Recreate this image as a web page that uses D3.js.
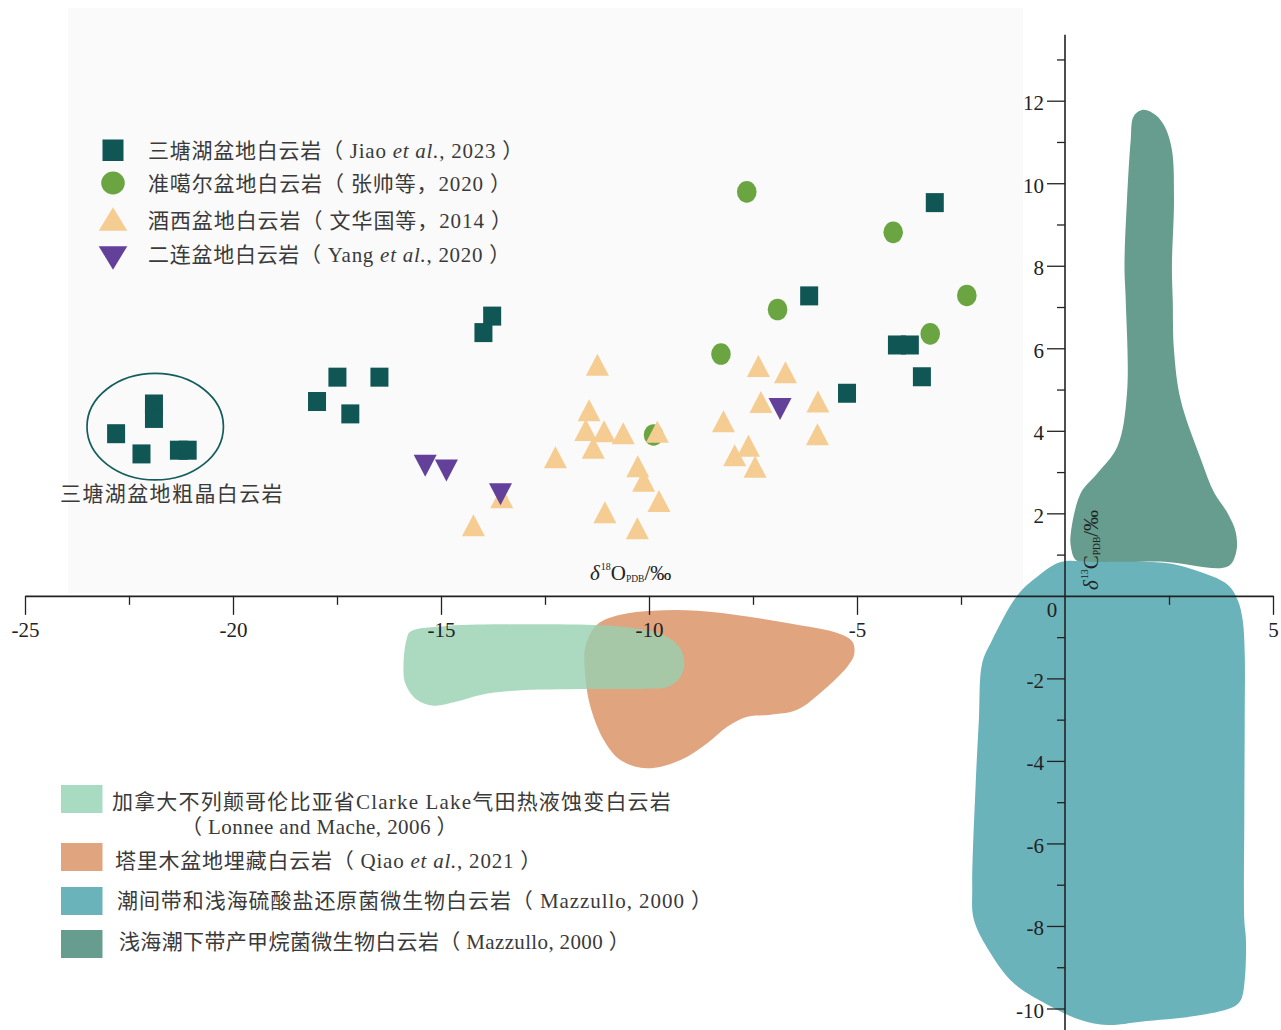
<!DOCTYPE html>
<html>
<head>
<meta charset="utf-8">
<script src="https://cdn.jsdelivr.net/npm/d3@7"></script>
<style>
  html, body { margin: 0; padding: 0; background: #fff; }
  svg { display: block; }
  text { font-family: "Liberation Serif", "Noto Sans CJK SC", serif; }
</style>
</head>
<body>
<svg id="chart" width="1281" height="1030"></svg>
<script>
// ---- δ18O / δ13C values (‰ PDB) ----
const santanghu = [
  [-22.81, 3.93], [-21.90, 4.65], [-21.90, 4.30], [-22.20, 3.44], [-21.30, 3.53], [-21.09, 3.53],
  [-17.49, 5.30], [-16.48, 5.30], [-17.98, 4.71], [-17.18, 4.41], [-13.77, 6.78], [-13.98, 6.38],
  [-6.15, 7.27], [-3.13, 9.53], [-4.04, 6.08], [-3.73, 6.08], [-3.44, 5.31], [-5.24, 4.91]
];
const junggar = [
  [-7.65, 9.79], [-4.13, 8.81], [-2.36, 7.28], [-3.24, 6.35], [-6.91, 6.94], [-8.27, 5.86], [-9.89, 3.90]
];
const jiuxi = [
  [-11.24, 5.51], [-11.44, 4.41], [-11.52, 3.93], [-11.08, 3.90], [-10.62, 3.85], [-9.80, 3.89],
  [-11.34, 3.50], [-12.25, 3.27], [-10.27, 3.05], [-10.13, 2.70], [-9.76, 2.21], [-11.06, 1.94],
  [-10.28, 1.55], [-14.22, 1.62], [-13.54, 2.30], [-7.37, 5.48], [-6.72, 5.33], [-7.31, 4.61],
  [-5.94, 4.62], [-8.21, 4.14], [-5.95, 3.83], [-7.61, 3.55], [-7.94, 3.32], [-7.45, 3.04]
];
const erlian = [
  [-15.38, 3.24], [-14.87, 3.13], [-13.57, 2.55], [-6.85, 4.62]
];

// ---- reference fields (outlines in ‰ PDB) ----
const clarkeZone = [
  [-15.74, -0.87], [-14.86, -0.73], [-13.25, -0.69], [-11.49, -0.70], [-10.37, -0.78], [-9.65, -0.95],
  [-9.28, -1.23], [-9.15, -1.59], [-9.24, -1.96], [-9.56, -2.21], [-10.05, -2.25], [-11.49, -2.26],
  [-13.25, -2.30], [-14.05, -2.40], [-14.62, -2.56], [-15.18, -2.66], [-15.58, -2.52], [-15.86, -2.12],
  [-15.90, -1.63], [-15.83, -1.07]
];
const tarimZone = [
  [-11.25, -0.70], [-10.69, -0.46], [-9.89, -0.36], [-8.84, -0.36], [-7.64, -0.50], [-6.44, -0.70],
  [-5.47, -0.90], [-5.11, -1.11], [-5.07, -1.43], [-5.23, -1.71], [-5.80, -2.28], [-6.44, -2.76],
  [-7.08, -2.88], [-7.64, -2.93], [-8.12, -3.17], [-8.60, -3.57], [-9.24, -3.98], [-10.05, -4.18],
  [-10.69, -3.98], [-11.09, -3.49], [-11.41, -2.68], [-11.53, -1.96], [-11.53, -1.23]
];
const sulfateZone = [
  [-1.75, -1.07], [-1.14, 0.02], [-0.66, 0.47], [-0.10, 0.82], [0.70, 0.82], [2.46, 0.79],
  [3.10, 0.63], [3.91, 0.27], [4.15, -0.10], [4.27, -0.58], [4.32, -1.39], [4.32, -3.00],
  [4.31, -5.43], [4.31, -7.85], [4.35, -8.34], [4.32, -9.31], [4.23, -9.79], [4.07, -9.95],
  [3.27, -10.16], [1.82, -10.32], [1.02, -10.40], [0.38, -10.28], [-0.34, -9.95], [-1.23, -9.39],
  [-1.79, -8.66], [-2.19, -7.85], [-2.23, -7.05], [-2.15, -4.62], [-2.07, -3.00], [-1.99, -1.63]
];
const methanogenZone = [
  [1.88, 11.78], [2.17, 11.66], [2.40, 11.37], [2.57, 10.81], [2.62, 9.60], [2.57, 7.98],
  [2.59, 7.17], [2.62, 5.96], [2.78, 4.75], [3.27, 3.30], [3.59, 2.49], [3.91, 2.00],
  [4.11, 1.52], [4.11, 1.04], [3.91, 0.71], [2.30, 0.83], [0.70, 0.79], [0.26, 0.87],
  [0.14, 1.20], [0.14, 1.52], [0.38, 2.49], [0.78, 2.97], [1.26, 3.62], [1.49, 4.91],
  [1.46, 7.17], [1.43, 7.98], [1.49, 9.60], [1.58, 11.05], [1.65, 11.62]
];
// coarse-crystalline group outline: centre and half-axes (‰)
const coarseGroup = { cx: -21.87, cy: 4.10, rx: 1.64, ry: 1.29 };

// ---- ticks ----
const xMajor = [-25, -20, -15, -10, -5, 5];
const xMinor = [-22.5, -17.5, -12.5, -7.5, -2.5, 2.5];
const yMajor = [-10, -8, -6, -4, -2, 2, 4, 6, 8, 10, 12];
const yMinor = [-9, -7, -5, -3, -1, 1, 3, 5, 7, 9, 11, 13];

// ---- legend labels ----
const pointLegend = [
  { shape: "square", color: "#0f5654", parts: [["三塘湖盆地白云岩（ Jiao "], ["et al.", 1], [", 2023 ）"]] },
  { shape: "circle", color: "#6aa542", parts: [["准噶尔盆地白云岩（ 张帅等，2020 ）"]] },
  { shape: "up",     color: "#f5cd93", parts: [["酒西盆地白云岩（ 文华国等，2014 ）"]] },
  { shape: "down",   color: "#63409a", parts: [["二连盆地白云岩（ Yang "], ["et al.", 1], [", 2020 ）"]] }
];
const fieldLegend = [
  { color: "#a9dbc3", lines: [[["加拿大不列颠哥伦比亚省Clarke Lake气田热液蚀变白云岩"]], [["（ Lonnee and Mache, 2006 ）"]]] },
  { color: "#e0a47f", lines: [[["塔里木盆地埋藏白云岩（ Qiao "], ["et al.", 1], [", 2021 ）"]]] },
  { color: "#6bb3bb", lines: [[["潮间带和浅海硫酸盐还原菌微生物白云岩（ Mazzullo, 2000 ）"]]] },
  { color: "#669d8e", lines: [[["浅海潮下带产甲烷菌微生物白云岩（ Mazzullo, 2000 ）"]]] }
];

const svg = d3.select("#chart");
const x = d3.scaleLinear().domain([-25, 5]).range([25, 1273]);
const y = d3.scaleLinear().domain([-10, 12]).range([1008.5, 100.7]);

const COLORS = {
  square: "#0f5654", circle: "#6aa542", up: "#f5cd93", down: "#63409a",
  ink: "#3a3a3a", axis: "#222"
};

// light panel behind the scatter
svg.append("rect").attr("x", 68).attr("y", 8).attr("width", 955).attr("height", 585).attr("fill", "#fafafa");

// reference fields
const outline = d3.line().x(d => x(d[0])).y(d => y(d[1])).curve(d3.curveCatmullRomClosed.alpha(0.5));
svg.append("path").attr("d", outline(methanogenZone)).attr("fill", "#669d8e");
svg.append("path").attr("d", outline(sulfateZone)).attr("fill", "#6bb3bb");
svg.append("path").attr("d", outline(tarimZone)).attr("fill", "#e0a47f");
svg.append("path").attr("d", outline(clarkeZone)).attr("fill", "rgb(151,209,178)").attr("fill-opacity", 0.8);

// ---- axes ----
const fmt = d => String(d);
const gx = svg.append("g").attr("transform", `translate(0,${y(0)})`)
  .call(d3.axisBottom(x).tickValues(xMajor).tickSize(19).tickSizeOuter(0).tickPadding(7).tickFormat(fmt));
const gxm = svg.append("g").attr("transform", `translate(0,${y(0)})`)
  .call(d3.axisBottom(x).tickValues(xMinor).tickSize(9).tickFormat(""));
gxm.select(".domain").remove();
gx.select(".domain").attr("stroke", COLORS.axis).attr("stroke-width", 1.6);

const gy = svg.append("g").attr("transform", `translate(${x(0)},0)`)
  .call(d3.axisLeft(y).tickValues(yMajor).tickSize(18).tickPadding(3).tickFormat(fmt));
gy.select(".domain").remove();
const gym = svg.append("g").attr("transform", `translate(${x(0)},0)`)
  .call(d3.axisLeft(y).tickValues(yMinor).tickSize(8).tickFormat(""));
gym.select(".domain").remove();
svg.append("line")
  .attr("x1", x(0)).attr("x2", x(0)).attr("y1", y(13.6)).attr("y2", y(-10.55))
  .attr("stroke", COLORS.axis).attr("stroke-width", 1.6);

[gx, gxm, gy, gym].forEach(g => {
  g.selectAll(".tick line").attr("stroke", COLORS.axis).attr("stroke-width", 1.3);
  g.selectAll("text").attr("font-size", 21).attr("fill", COLORS.axis)
    .attr("font-family", "'Liberation Serif', serif");
});
gy.selectAll("text").attr("dy", "0.42em");
// shared origin label
svg.append("text").attr("x", x(0) - 13).attr("y", y(0) + 21).attr("text-anchor", "middle")
  .attr("font-size", 21).attr("fill", COLORS.axis).text("0");

// axis titles
function isotopeTitle(sel, sup, el) {
  sel.append("tspan").attr("font-style", "italic").text("δ");
  sel.append("tspan").attr("font-size", 10).attr("dy", -10).attr("dx", 1).text(sup);
  sel.append("tspan").attr("dy", 10).text(el);
  sel.append("tspan").attr("font-size", 9.5).attr("dy", 2).text("PDB");
  sel.append("tspan").attr("dy", -2).text("/‰");
}
isotopeTitle(svg.append("text").attr("x", 590).attr("y", 580).attr("font-size", 21).attr("fill", COLORS.axis), "18", "O");
isotopeTitle(svg.append("text").attr("transform", "translate(1098,590) rotate(-90)").attr("font-size", 21).attr("fill", COLORS.axis), "13", "C");

// ---- markers ----
function triangle(cx, cy, w, h, down) {
  const p = d3.path();
  const s = down ? -1 : 1;
  p.moveTo(cx, cy - s * 2 * h / 3);
  p.lineTo(cx + w / 2, cy + s * h / 3);
  p.lineTo(cx - w / 2, cy + s * h / 3);
  p.closePath();
  return p.toString();
}
function drawMarker(g, shape, cx, cy, k) {
  if (shape === "square") {
    g.append("rect").attr("x", cx - 9 * k).attr("y", cy - 9.5 * k).attr("width", 18 * k).attr("height", 19 * k)
      .attr("fill", COLORS.square);
  } else if (shape === "circle") {
    g.append("ellipse").attr("cx", cx).attr("cy", cy).attr("rx", 9.8 * k).attr("ry", 10.8 * k).attr("fill", COLORS.circle);
  } else {
    g.append("path").attr("d", triangle(cx, cy, 23 * k, 22 * k, shape === "down")).attr("fill", COLORS[shape]);
  }
}

const marks = svg.append("g");
junggar.forEach(d => drawMarker(marks, "circle", x(d[0]), y(d[1]), 1));
jiuxi.forEach(d => drawMarker(marks, "up", x(d[0]), y(d[1]), 1));
santanghu.forEach(d => drawMarker(marks, "square", x(d[0]), y(d[1]), 1));
erlian.forEach(d => drawMarker(marks, "down", x(d[0]), y(d[1]), 1));

// coarse-crystalline group outline and note
svg.append("ellipse")
  .attr("cx", x(coarseGroup.cx)).attr("cy", y(coarseGroup.cy))
  .attr("rx", x(coarseGroup.cx + coarseGroup.rx) - x(coarseGroup.cx))
  .attr("ry", y(coarseGroup.cy - coarseGroup.ry) - y(coarseGroup.cy))
  .attr("fill", "none").attr("stroke", "#135e5c").attr("stroke-width", 1.7);

// text helper: fits a label to a given advance width by spacing glyphs
function label(g, x0, yb, parts, width) {
  const t = g.append("text").attr("x", x0).attr("y", yb).attr("font-size", 21).attr("fill", COLORS.ink);
  parts.forEach(p => {
    const s = t.append("tspan").text(p[0]);
    if (p[1]) s.attr("font-style", "italic");
  });
  if (width) {
    const w = t.node().getComputedTextLength();
    const n = t.text().length;
    t.style("letter-spacing", ((width - w) / n) + "px");
  }
  return t;
}
label(svg, 60, 501, [["三塘湖盆地粗晶白云岩"]], 224);

// ---- point legend ----
const lg = svg.append("g");
const pRows = [150, 183, 220, 254];
const pWidths = [376, 364, 365, 363];
pointLegend.forEach((item, i) => {
  const cy = pRows[i];
  if (item.shape === "square") {
    lg.append("rect").attr("x", 102.5).attr("y", cy - 10.5).attr("width", 21).attr("height", 21.5).attr("fill", item.color);
  } else if (item.shape === "circle") {
    lg.append("ellipse").attr("cx", 113).attr("cy", cy).attr("rx", 11.8).attr("ry", 11.4).attr("fill", item.color);
  } else {
    lg.append("path").attr("d", triangle(113, cy + (item.shape === "up" ? 3 : 0), 28.6, 23.6, item.shape === "down")).attr("fill", item.color);
  }
  label(lg, 148, cy + 7.5, item.parts, pWidths[i]);
});

// ---- field legend ----
const fg = svg.append("g");
const fRows = [[801.7, 826.7], [860], [900], [941.7]];
const fSw = [785, 843, 887, 930];
const fX = [[112, 181], [115], [117], [119]];
const fWidths = [[560, 277], [427], [596], [511]];
fieldLegend.forEach((item, i) => {
  fg.append("rect").attr("x", 61).attr("y", fSw[i]).attr("width", 41.5).attr("height", 28).attr("fill", item.color);
  item.lines.forEach((parts, j) => label(fg, fX[i][j], fRows[i][j] + 7.5, parts, fWidths[i][j]));
});
</script>
</body>
</html>
